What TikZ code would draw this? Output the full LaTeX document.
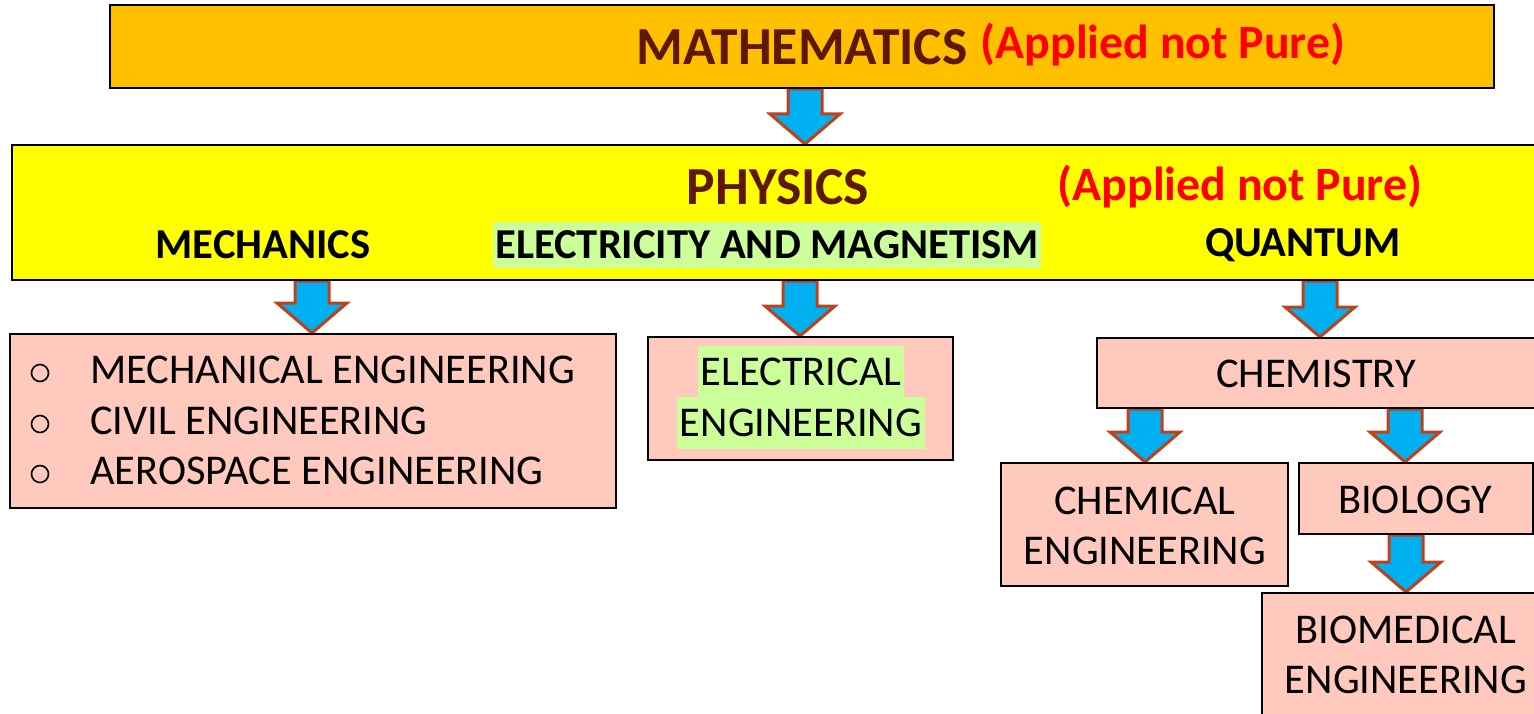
\documentclass[tikz,border=0pt]{standalone}
\usepackage{fontspec}
\setmainfont{Carlito}
\usetikzlibrary{calc,backgrounds}
\definecolor{mathorange}{HTML}{FFC000}
\definecolor{physyellow}{HTML}{FFFF00}
\definecolor{pinkbox}{HTML}{FFC9BD}
\definecolor{hlgreen}{HTML}{CCFF99}
\definecolor{titlebrown}{HTML}{5F1800}
\definecolor{arrowblue}{HTML}{00B0F0}
\definecolor{arrowedge}{HTML}{BE4119}
\tikzset{
  box/.style={draw=black, line width=2pt, rectangle, inner sep=0pt},
  pinkrect/.style={box, fill=pinkbox},
  titletext/.style={font=\fontsize{53.5}{64}\selectfont\bfseries, text=titlebrown, inner sep=0pt},
  applied/.style={font=\fontsize{47.8}{57}\selectfont\bfseries, text=red, inner sep=0pt},
  subhead/.style={font=\fontsize{42.6}{51}\selectfont\bfseries, text=black, inner sep=0pt},
  bodytext/.style={font=\fontsize{42.4}{50}\selectfont, text=black, inner sep=0pt},
  hl/.style={fill=hlgreen},
  bulletmark/.style={circle, draw=black, line width=1.6pt, minimum size=17pt, inner sep=0pt},
  barrow/.style={draw=arrowedge, fill=arrowblue, line width=3pt, line join=miter},
}
\newcommand\blockarrow[2]{%
  \draw[barrow] let \p1=(#1), \p2=(#2) in
    (\x1-17pt,\y1) -- (\x1+17pt,\y1) -- (\x1+17pt,\y2+30pt) -- (\x1+35pt,\y2+30pt)
    -- (\x1,\y2) -- (\x1-35pt,\y2+30pt) -- (\x1-17pt,\y2+30pt) -- cycle;}
\begin{document}
\begin{tikzpicture}[x=1pt,y=-1pt]
\useasboundingbox (0,0) rectangle (1534,714);
% boxes
\node[box, fill=mathorange, minimum width=1384pt, minimum height=83pt] (math) at (802,46.5) {};
\node[box, fill=physyellow, minimum width=1540pt, minimum height=135pt] (phys) at (782,212.5) {};
\node[pinkrect, minimum width=606pt, minimum height=174pt] (mech) at (313,421) {};
\node[pinkrect, minimum width=305pt, minimum height=123pt] (elec) at (800.5,398.5) {};
\node[pinkrect, minimum width=450pt, minimum height=70pt] (chem) at (1322,373) {};
\node[pinkrect, minimum width=287pt, minimum height=123pt] (chemeng) at (1144.5,524.5) {};
\node[pinkrect, minimum width=234pt, minimum height=71pt] (bio) at (1416,498.5) {};
\node[pinkrect, minimum width=290pt, minimum height=140pt] (biomed) at (1407,663) {};
% texts
\node[titletext] (mathT) at (802,47) {MATHEMATICS};
\node[applied] (mathA) at (1163,45) {(Applied not Pure)};
\node[titletext] (physT) at (778,187) {PHYSICS};
\node[applied] (physA) at (1240,187) {(Applied not Pure)};
\node[subhead] (mechH) at (263,245) {MECHANICS};
\node[subhead, hl, minimum height=46pt, inner xsep=2pt] (emH) at (767,245) {ELECTRICITY AND MAGNETISM};
\node[subhead] (quantH) at (1303,245) {QUANTUM};
% mech list
\node[bulletmark] (b1) at (40,373) {};
\node[bulletmark] (b2) at (40,424) {};
\node[bulletmark] (b3) at (40,474) {};
\node[bodytext, anchor=west] (l1) at (90,370) {MECHANICAL ENGINEERING};
\node[bodytext, anchor=west] (l2) at (90,421) {CIVIL ENGINEERING};
\node[bodytext, anchor=west] (l3) at (90,471) {AEROSPACE ENGINEERING};
% electrical
\node[bodytext, hl, minimum height=51pt, inner xsep=3pt] (e1) at (801,371.5) {ELECTRICAL};
\node[bodytext, hl, minimum height=52pt, inner xsep=3pt] (e2) at (801,423) {ENGINEERING};
% chemistry branch
\node[bodytext] (chemT) at (1316,374) {CHEMISTRY};
\node[bodytext, align=center] (chemengT) at (1145,526) {CHEMICAL\\[0pt]ENGINEERING};
\node[bodytext] (bioT) at (1415,500) {BIOLOGY};
\node[bodytext, align=center] (biomedT) at (1406,655) {BIOMEDICAL\\[0pt]ENGINEERING};
% arrow axes
\coordinate (ax1) at (805,0);
\coordinate (ax2) at (312,0);
\coordinate (ax3) at (800,0);
\coordinate (ax4) at (1320,0);
\coordinate (ax5) at (1145,0);
\coordinate (ax6) at (1405,0);
\coordinate (ax7) at (1406,0);
\begin{scope}[on background layer]
\blockarrow{ax1 |- math.south}{ax1 |- phys.north}
\blockarrow{ax2 |- phys.south}{ax2 |- mech.north}
\blockarrow{ax3 |- phys.south}{ax3 |- elec.north}
\blockarrow{ax4 |- phys.south}{ax4 |- chem.north}
\blockarrow{ax5 |- chem.south}{ax5 |- chemeng.north}
\blockarrow{ax6 |- chem.south}{ax6 |- bio.north}
\blockarrow{ax7 |- bio.south}{ax7 |- biomed.north}
\end{scope}
\end{tikzpicture}
\end{document}
